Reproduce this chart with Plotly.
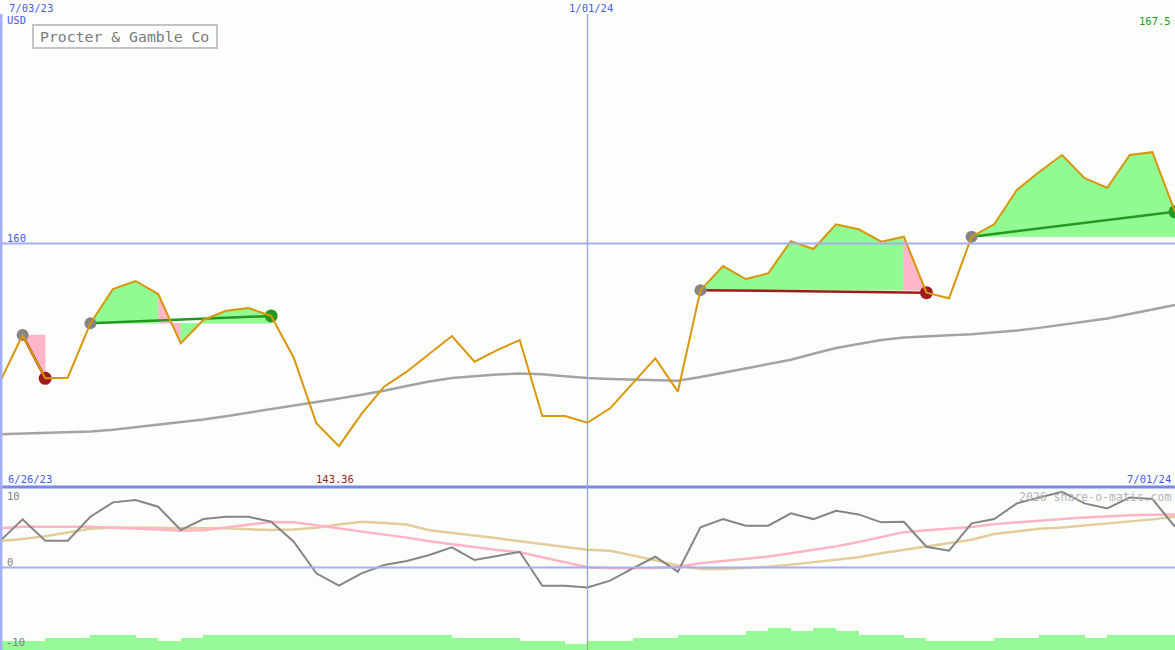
import pandas as pd
import plotly.graph_objects as go

# ---------------- data ----------------
dates = pd.date_range("2023-07-03", periods=53, freq="7D")

price = [148.65, 152.48, 148.93, 148.98, 153.44, 156.26, 156.92, 155.85, 151.80, 153.72,
         154.48, 154.70, 154.05, 150.62, 145.23, 143.36, 146.00, 148.24, 149.47, 150.92,
         152.40, 150.29, 151.25, 152.07, 145.83, 145.83, 145.28, 146.46, 148.54, 150.57,
         147.83, 156.17, 158.15, 157.08, 157.55, 160.20, 159.55, 161.58, 161.17, 160.15,
         160.56, 155.96, 155.50, 160.56, 161.58, 164.39, 165.90, 167.27, 165.36, 164.58,
         167.27, 167.50, 162.60]

moving_avg = [144.33, 144.39, 144.44, 144.49, 144.55, 144.70, 144.90, 145.12, 145.32, 145.54,
              145.82, 146.10, 146.38, 146.66, 146.96, 147.27, 147.57, 147.90, 148.30, 148.67,
              148.95, 149.12, 149.24, 149.32, 149.26, 149.10, 148.95, 148.87, 148.83, 148.77,
              148.73, 149.03, 149.40, 149.76, 150.10, 150.45, 150.94, 151.41, 151.75, 152.07,
              152.27, 152.39, 152.47, 152.54, 152.68, 152.86, 153.07, 153.31, 153.55, 153.84,
              154.21, 154.58, 154.95]

osc = [3.63, 6.60, 3.67, 3.67, 6.96, 8.93, 9.25, 8.33, 5.14, 6.64,
       6.96, 6.96, 6.27, 3.53, -0.79, -2.49, -0.79, 0.34, 0.89, 1.71,
       2.77, 1.03, 1.58, 2.16, -2.49, -2.49, -2.72, -1.80, -0.11, 1.48,
       -0.57, 5.51, 6.64, 5.73, 5.73, 7.42, 6.64, 7.78, 7.28, 6.19,
       6.27, 2.85, 2.30, 6.05, 6.64, 8.79, 9.61, 10.38, 8.79, 8.11,
       9.61, 9.38, 5.59]

osc_pink = [5.37, 5.59, 5.59, 5.59, 5.59, 5.45, 5.37, 5.20, 5.04, 5.10,
            5.50, 5.90, 6.25, 6.20, 5.80, 5.40, 5.00, 4.50, 4.10, 3.60,
            3.20, 2.70, 2.40, 2.10, 1.40, 0.80, 0.05, -0.10, -0.10, -0.05,
            0.10, 0.60, 0.90, 1.20, 1.50, 1.95, 2.40, 2.90, 3.50, 4.20,
            4.85, 5.10, 5.35, 5.55, 5.95, 6.20, 6.50, 6.65, 6.85, 7.05,
            7.15, 7.25, 7.28]

osc_tan = [3.63, 3.90, 4.30, 4.85, 5.30, 5.50, 5.50, 5.50, 5.40, 5.40,
           5.37, 5.25, 5.14, 5.20, 5.45, 5.90, 6.27, 6.10, 5.90, 5.10,
           4.80, 4.40, 4.00, 3.60, 3.20, 2.80, 2.45, 2.30, 1.70, 1.00,
           0.30, -0.20, -0.20, -0.10, 0.10, 0.40, 0.75, 1.05, 1.40, 1.95,
           2.40, 2.90, 3.30, 3.80, 4.60, 4.95, 5.30, 5.50, 5.75, 6.05,
           6.30, 6.60, 6.96]

volume = [3.1, 3.1, 4.1, 4.1, 5.1, 5.1, 4.1, 3.1, 4.1, 5.1,
          5.1, 5.1, 5.1, 5.1, 5.1, 5.1, 5.1, 5.1, 5.1, 5.1,
          4.1, 4.1, 4.1, 3.1, 3.1, 2.1, 3.1, 3.1, 4.1, 4.1,
          5.1, 5.1, 5.1, 6.3, 7.4, 6.3, 7.4, 6.3, 5.1, 5.1,
          4.1, 3.1, 3.1, 3.1, 4.1, 4.1, 5.1, 5.1, 4.1, 5.1,
          5.1, 5.1]

entry_idx = [1, 4, 31, 43]
exit_idx = [2, 12, 41, 52]
segment_colors = [
    ["P"],
    ["G", "G", "G", "P", "G", "G", "G", "G"],
    ["G", "G", "G", "G", "G", "G", "G", "G", "G", "P"],
    ["G", "G", "G", "G", "G", "G", "G", "G", "G"],
]

price_high = "167.5"
price_low = "143.36"

# ---------------- styles ----------------
BG = "#fbfefb"
BLUE_TXT = "#4a5af0"
GRID = "#a4aef4"
GAIN = "#229922"
LOSS = "#a01c1c"
FILL_G = "#92fa92"
FILL_P = "#ffb6c8"
FONT = "DejaVu Sans Mono"

W, H = 1175, 650
split_px = 487
main_dom = [(H - split_px) / H, 1]
sub_dom = [0, (H - split_px - 1) / H]

fig = go.Figure()

# trade fills: one polygon per run of equally coloured weeks
for t, (e, x) in enumerate(zip(entry_idx, exit_idx)):
    base = price[e]
    cols = segment_colors[t]
    k = 0
    while k < len(cols):
        j = k
        while j + 1 < len(cols) and cols[j + 1] == cols[k]:
            j += 1
        a, b = e + k, e + j + 1
        xs = list(dates[a:b + 1]) + [dates[b], dates[a], dates[a]]
        ys = price[a:b + 1] + [base, base, price[a]]
        col = FILL_G if cols[k] == "G" else FILL_P
        fig.add_trace(go.Scatter(x=xs, y=ys, mode="lines", line=dict(width=0.5, color=col),
                                 fill="toself", fillcolor=col,
                                 hoverinfo="skip", showlegend=False, xaxis="x", yaxis="y"))
        k = j + 1

# moving average
fig.add_trace(go.Scatter(x=dates, y=moving_avg, mode="lines",
                         line=dict(color="#a3a3a3", width=2.5),
                         hoverinfo="skip", showlegend=False, xaxis="x", yaxis="y"))

# trade lines
for e, x in zip(entry_idx, exit_idx):
    col = GAIN if price[x] >= price[e] else LOSS
    fig.add_trace(go.Scatter(x=[dates[e], dates[x]], y=[price[e], price[x]], mode="lines",
                             line=dict(color=col, width=2.5),
                             hoverinfo="skip", showlegend=False, xaxis="x", yaxis="y"))

# entry markers
fig.add_trace(go.Scatter(x=[dates[i] for i in entry_idx], y=[price[i] for i in entry_idx],
                         mode="markers", marker=dict(color="#858585", size=12),
                         hoverinfo="skip", showlegend=False, xaxis="x", yaxis="y"))
# exit markers
fig.add_trace(go.Scatter(x=[dates[i] for i in exit_idx], y=[price[i] for i in exit_idx],
                         mode="markers",
                         marker=dict(color=[GAIN if price[x] >= price[e] else LOSS
                                            for e, x in zip(entry_idx, exit_idx)], size=13),
                         hoverinfo="skip", showlegend=False, xaxis="x", yaxis="y"))

# price line
fig.add_trace(go.Scatter(x=dates, y=price, mode="lines",
                         line=dict(color="#d9960a", width=2),
                         hoverinfo="skip", showlegend=False, xaxis="x", yaxis="y"))

# volume histogram (lower panel)
week_ms = 7 * 24 * 3600 * 1000
fig.add_trace(go.Bar(x=dates[:-1], y=volume, width=week_ms, offset=0,
                     marker=dict(color="#96fa96", line=dict(width=0)),
                     hoverinfo="skip", showlegend=False, xaxis="x2", yaxis="y3"))

# oscillators
fig.add_trace(go.Scatter(x=dates, y=osc_tan, mode="lines", line=dict(color="#e4cc9c", width=2.5),
                         hoverinfo="skip", showlegend=False, xaxis="x2", yaxis="y2"))
fig.add_trace(go.Scatter(x=dates, y=osc_pink, mode="lines", line=dict(color="#ffb4c6", width=2.5),
                         hoverinfo="skip", showlegend=False, xaxis="x2", yaxis="y2"))
fig.add_trace(go.Scatter(x=dates, y=osc, mode="lines", line=dict(color="#858585", width=2),
                         hoverinfo="skip", showlegend=False, xaxis="x2", yaxis="y2"))

xr = [dates[0], dates[-1]]
axis_off = dict(showgrid=False, zeroline=False, showticklabels=False, ticks="", showline=False)

fig.update_layout(
    width=W, height=H,
    margin=dict(l=0, r=0, t=0, b=0),
    paper_bgcolor=BG, plot_bgcolor=BG,
    xaxis=dict(range=xr, type="date", domain=[0, 1], anchor="y", **axis_off),
    xaxis2=dict(range=xr, type="date", domain=[0, 1], anchor="y2", matches="x", **axis_off),
    yaxis=dict(range=[140, 180], domain=main_dom, **axis_off),
    yaxis2=dict(range=[-11.3, 10.9], domain=sub_dom, **axis_off),
    yaxis3=dict(range=[0, 54], domain=sub_dom, overlaying="y2", anchor="x2", **axis_off),
    bargap=0,
    showlegend=False,
)

shapes = [
    dict(type="line", xref="paper", x0=0, x1=1, yref="y", y0=160, y1=160,
         line=dict(color=GRID, width=2), layer="above"),
    dict(type="line", xref="paper", x0=0, x1=1, yref="y2", y0=0, y1=0,
         line=dict(color=GRID, width=2), layer="above"),
    dict(type="line", xref="paper", x0=0, x1=1, yref="paper",
         y0=(H - split_px) / H, y1=(H - split_px) / H,
         line=dict(color="#7888ea", width=3), layer="above"),
    dict(type="line", xref="paper", x0=0.0008, x1=0.0008, yref="paper", y0=0, y1=1 - 14 / H,
         line=dict(color=GRID, width=3), layer="above"),
    dict(type="line", xref="x", x0="2024-01-01", x1="2024-01-01", yref="paper",
         y0=0, y1=1 - 14 / H, line=dict(color="#94a0ff", width=1.3), layer="above"),
    dict(type="rect", xref="paper", yref="paper", x0=33 / W, x1=217 / W,
         y0=1 - 48 / H, y1=1 - 25 / H, line=dict(color="#c4c4c4", width=2),
         fillcolor="#ffffff", layer="above"),
]
fig.update_layout(shapes=shapes)


def label(text, xpx, ypx, color, size=10.5, xanchor="left"):
    fig.add_annotation(text=text, x=xpx / W, y=1 - ypx / H, xref="paper", yref="paper",
                       xanchor=xanchor, yanchor="middle", showarrow=False,
                       font=dict(family=FONT, size=size, color=color))


label("7/03/23", 7, 8, BLUE_TXT)
label("USD", 5, 20, BLUE_TXT)
label("1/01/24", 591, 8, BLUE_TXT, xanchor="center")
label(price_high, 1173, 21, GAIN, xanchor="right")
label("160", 5, 238, BLUE_TXT)
label("6/26/23", 6, 479, BLUE_TXT)
label(price_low, 314, 479, LOSS)
label("7/01/24", 1173, 479, BLUE_TXT, xanchor="right")
label("2026 share-o-matic.com", 1173, 497, "#b4b4b4", size=11.5, xanchor="right")
label("10", 5, 496, "#808080")
label("0", 5, 562, "#808080")
label("-10", 4, 642, "#808080")
label("Procter &amp; Gamble Co", 38, 36.5, "#7a7a7a", size=14.8)

fig.write_html("out.html", config={"displayModeBar": False},
               post_script="document.body.style.margin='0';document.body.style.overflow='hidden';")
